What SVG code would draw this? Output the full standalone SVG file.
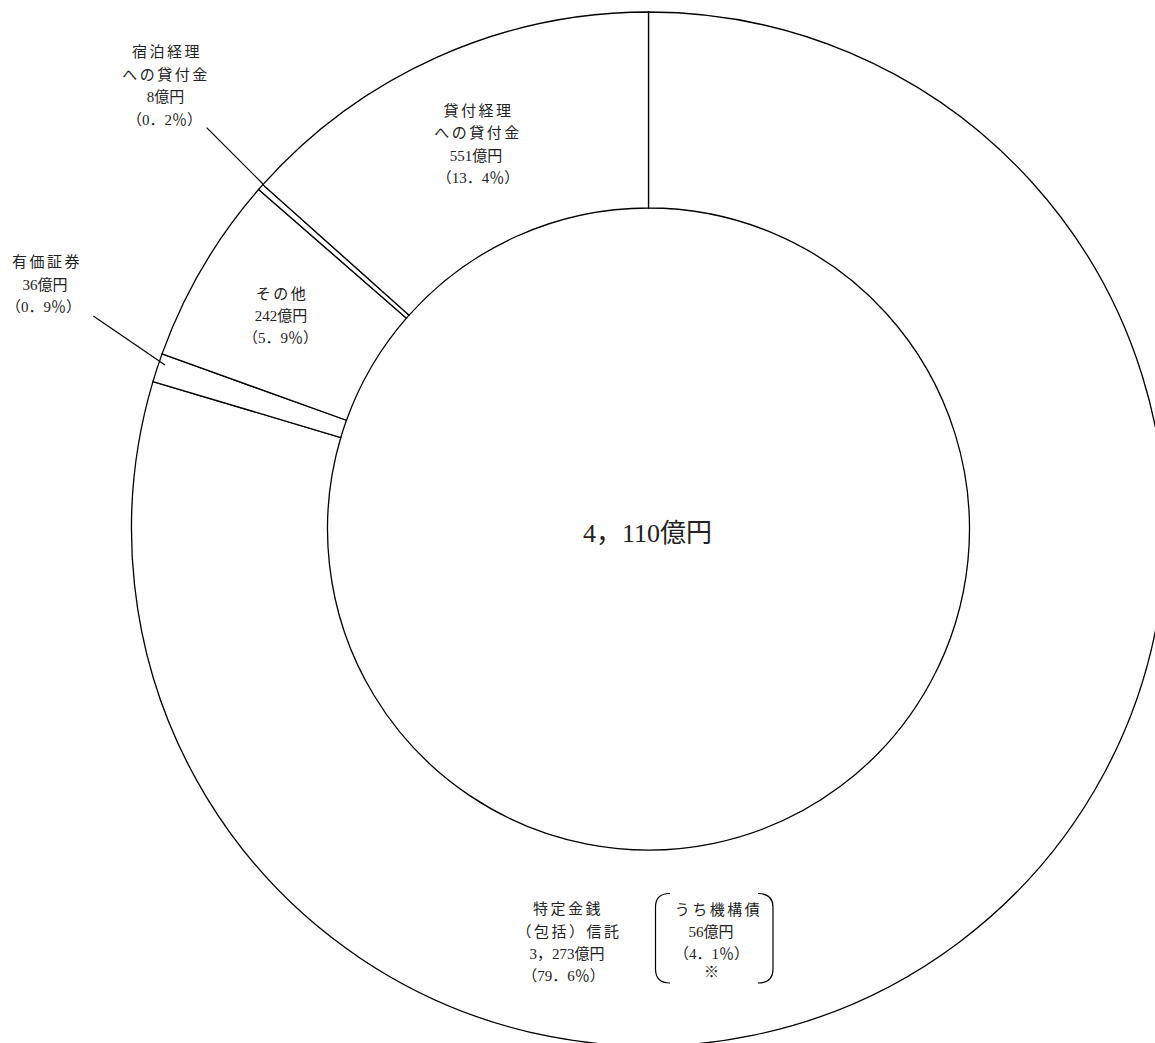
<svg xmlns="http://www.w3.org/2000/svg" width="1155" height="1043" viewBox="0 0 1155 1043">
<style>
.w{fill:#fff;stroke:#000;stroke-width:1.3;stroke-linejoin:miter}
.ld{fill:none;stroke:#000;stroke-width:1.2}
text{font-family:"Liberation Serif","Noto Sans CJK JP",serif;font-size:15px;fill:#222;text-anchor:middle}
.ls{letter-spacing:2.5px}
.big{font-size:26px}
</style>
<rect width="1155" height="1043" fill="#fff"/>
<g id="seg-tokutei">
<path class="w" d="M648.5,12 A517,517 0 1 1 152.94,381.64 L340.81,437.51 A321,321 0 1 0 648.5,208 Z"/>
<text class="ls" x="568" y="914">特定金銭</text>
<text class="ls" x="569" y="937">（包括）信託</text>
<text x="567" y="959">3，273億円</text>
<text x="563.5" y="981">（79．6％）</text>
</g>
<g id="seg-kikousai">
<path class="ld" d="M670,893.5 Q655.5,893.5 655.5,907 L655.5,969 Q655.5,983 670,983"/>
<path class="ld" d="M758,893.5 Q773,893.5 773,907 L773,969 Q773,983 758,983"/>
<text class="ls" x="718.5" y="915">うち機構債</text>
<text x="711" y="937">56億円</text>
<text x="711.5" y="959">（4．1％）</text>
<text x="711.5" y="977">※</text>
</g>
<g id="seg-yuka">
<path class="w" d="M152.94,381.64 A517,517 0 0 1 162.07,353.87 L346.48,420.26 A321,321 0 0 0 340.81,437.51 Z"/>
<text class="ls" x="47" y="267">有価証券</text>
<text x="45" y="289.5">36億円</text>
<text x="43.5" y="312">（0．9％）</text>
</g>
<g id="seg-sonota">
<path class="w" d="M162.07,353.87 A517,517 0 0 1 258.61,189.48 L406.42,318.19 A321,321 0 0 0 346.48,420.26 Z"/>
<text class="ls" x="282" y="299">その他</text>
<text x="281" y="321">242億円</text>
<text x="280.5" y="343">（5．9％）</text>
</g>
<g id="seg-shukuhaku">
<path class="w" d="M258.61,189.48 A517,517 0 0 1 262.90,184.63 L409.09,315.18 A321,321 0 0 0 406.42,318.19 Z"/>
<text class="ls" x="167" y="57">宿泊経理</text>
<text class="ls" x="166" y="79.5">への貸付金</text>
<text x="165.5" y="102">8億円</text>
<text x="164.5" y="124.5">（0．2％）</text>
</g>
<g id="seg-kashitsuke">
<path class="w" d="M262.90,184.63 A517,517 0 0 1 648.5,12 L648.5,208 A321,321 0 0 0 409.09,315.18 Z"/>
<text class="ls" x="478.5" y="115.5">貸付経理</text>
<text class="ls" x="478" y="138">への貸付金</text>
<text x="476" y="160.5">551億円</text>
<text x="478" y="183">（13．4％）</text>
</g>
<g id="center-total">
<text class="big" x="647.5" y="542">4，110億円</text>
</g>
<g id="connectors">
<line class="ld" x1="206.7" y1="127.7" x2="263" y2="184"/>
<line class="ld" x1="93.3" y1="316" x2="165" y2="365"/>
</g>
</svg>
